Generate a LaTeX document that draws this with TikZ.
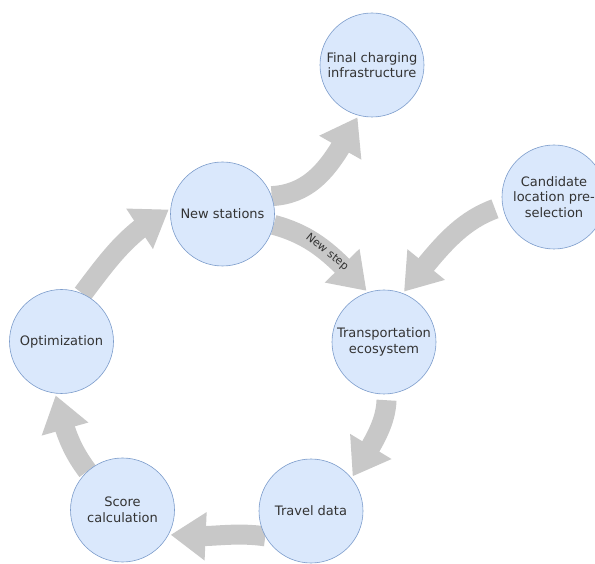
\documentclass[tikz,border=0pt]{standalone}
\usepackage{fontspec}
\setmainfont{DejaVu Sans}
\usetikzlibrary{arrows.meta,bending,backgrounds}

\definecolor{stfill}{HTML}{DAE8FC}
\definecolor{stline}{HTML}{7C9CCB}
\definecolor{flowgray}{HTML}{C8C8C8}
\definecolor{txtgray}{HTML}{333333}

\tikzset{
  stage/.style={circle, draw=stline, fill=stfill, line width=.6pt, minimum size=104pt,
    inner sep=0pt, align=center, text=txtgray, font=\fontsize{13}{15.5}\selectfont},
  flow/.style={draw=flowgray, line width=20pt, shorten >=2pt,
    -{Triangle[length=35pt, width=46pt]}}
}

\begin{document}
\begin{tikzpicture}[x=1pt, y=1pt]
\useasboundingbox (0,0) rectangle (595,563);

\node[stage] (fin) at (372,498) {Final charging\\infrastructure};
\node[stage] (new) at (222.5,349) {New stations};
\node[stage] (cand) at (554,366) {Candidate\\location pre-\\selection};
\node[stage] (trans) at (384,221) {Transportation\\ecosystem};
\node[stage] (opt) at (61.5,221.5) {Optimization};
\node[stage] (score) at (122.5,53) {Score\\calculation};
\node[stage] (travel) at (311,52) {Travel data};

\begin{pgfonlayer}{background}
\draw [flow] (opt.66) to [out=53, in=209] (new.174);

\draw [flow] (new.20) to [out=3, in=241] (fin.255);

\draw [flow] (new.-12) to [out=-15, in=134]
  node [pos=.52, sloped, text=txtgray, font=\fontsize{11}{13}\selectfont] {New step} (trans.108);

\draw [flow, shorten <=8pt] (cand.190) to [out=200, in=50] (trans.69);

\draw [flow, shorten <=6pt] (trans.-87) to [out=-92, in=60] (travel.39);

\draw [flow] (travel.209) to [out=172, in=-8] (score.-28);

\draw [flow] (score.132) to [out=127, in=285] (opt.263);
\end{pgfonlayer}
\end{tikzpicture}
\end{document}
